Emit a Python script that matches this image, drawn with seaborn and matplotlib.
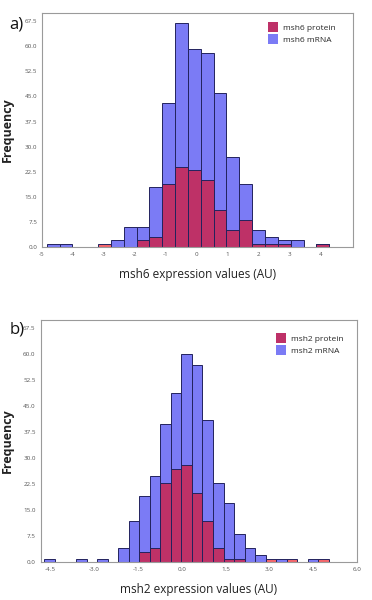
import numpy as np
import pandas as pd
import seaborn as sns
import matplotlib.pyplot as plt
from matplotlib.patches import Patch

# panel a: msh6, bin edges and counts
edges_a = [-4.85, -4.435, -4.02, -3.605, -3.19, -2.775, -2.36, -1.945, -1.53,
           -1.115, -0.70, -0.285, 0.13, 0.545, 0.96, 1.375, 1.79, 2.205, 2.62,
           3.035, 3.45, 3.865, 4.28]
mrna_a = [1, 1, 0, 0, 0, 2, 6, 6, 18, 43, 67, 59, 58, 46, 27, 19, 5, 3, 2, 2, 0, 1]
protein_a = [0, 0, 0, 0, 1, 0, 0, 2, 3, 19, 24, 23, 20, 11, 5, 8, 1, 1, 1, 0, 0, 1]
xticks_a = [-5, -4, -3, -2, -1, 0, 1, 2, 3, 4]

# panel b: msh2
edges_b = [-4.72, -4.36, -4.00, -3.64, -3.27, -2.91, -2.55, -2.19, -1.83, -1.47,
           -1.10, -0.74, -0.38, -0.02, 0.34, 0.70, 1.07, 1.43, 1.79, 2.15, 2.51,
           2.87, 3.24, 3.60, 3.96, 4.32, 4.68, 5.04]
mrna_b = [1, 0, 0, 1, 0, 1, 0, 4, 12, 19, 25, 40, 49, 60, 57, 41, 23, 17, 8, 4, 2,
          0, 1, 0, 0, 1, 0]
protein_b = [0, 0, 0, 0, 0, 0, 0, 0, 0, 3, 4, 23, 27, 28, 20, 12, 4, 1, 1, 0, 0,
             1, 0, 1, 0, 0, 1]
xticks_b = [-4.5, -3.0, -1.5, 0.0, 1.5, 3.0, 4.5, 6.0]

yticks = [0.0, 7.5, 15.0, 22.5, 30.0, 37.5, 45.0, 52.5, 60.0, 67.5]

BLUE = "#7b7bf5"
RED = "#eb0008"
LEG_RED = "#be3168"
EDGE = "#23235e"


def to_df(edges, counts):
    e = np.array(edges)
    return pd.DataFrame({"x": (e[:-1] + e[1:]) / 2, "n": counts})


sns.set_style("white")
plt.rcParams["font.family"] = ["Open Sans", "DejaVu Sans"]

fig = plt.figure(figsize=(3.72, 6), dpi=100)
ax_a = fig.add_axes([0.113, 0.588, 0.836, 0.391])
ax_b = fig.add_axes([0.109, 0.063, 0.850, 0.404])

panels = [
    (ax_a, edges_a, mrna_a, protein_a, "msh6", xticks_a, (-5.0, 5.05), "a)", 0.953,
     (0.727, 0.96), -0.09),
    (ax_b, edges_b, mrna_b, protein_b, "msh2", xticks_b, (-4.85, 6.0), "b)", 0.445,
     (0.745, 0.945), -0.085),
]

for ax, edges, mrna, prot, gene, xt, xl, tag, ty, lpos, ylx in panels:
    sns.histplot(data=to_df(edges, mrna), x="x", weights="n", bins=edges,
                 color=BLUE, alpha=1.0, edgecolor=EDGE, linewidth=0.7, ax=ax)
    sns.histplot(data=to_df(edges, prot), x="x", weights="n", bins=edges,
                 color=RED, alpha=0.6, edgecolor=EDGE, linewidth=0.7, ax=ax)
    ax.set_xlim(*xl)
    ax.set_ylim(0, 70)
    ax.set_yticks(yticks)
    ax.set_yticklabels([f"{v:.1f}" for v in yticks])
    ax.set_xticks(xt)
    if gene == "msh6":
        ax.set_xticklabels([str(v) for v in xt])
    else:
        ax.set_xticklabels([f"{v:.1f}" for v in xt])
    ax.tick_params(axis="both", labelsize=4.5, colors="#555555", length=2,
                   width=0.5, pad=1.5, direction="out")
    for s in ax.spines.values():
        s.set_color("#9a9a9a")
        s.set_linewidth(0.8)
    ax.set_xlabel(f"{gene} expression values (AU)", fontsize=8.5, labelpad=8,
                  color="#222222")
    ax.set_ylabel("Frequency", fontsize=9, fontweight="bold", color="#222222")
    ax.yaxis.set_label_coords(ylx, 0.5)
    handles = [Patch(facecolor=LEG_RED, edgecolor="none", label=f"{gene} protein"),
               Patch(facecolor=BLUE, edgecolor="none", label=f"{gene} mRNA")]
    ax.legend(handles=handles, loc="upper left", bbox_to_anchor=lpos,
              frameon=False, fontsize=6, handlelength=1.15, handleheight=1.5,
              borderpad=0, borderaxespad=0, labelspacing=0.2, handletextpad=0.6)
    fig.text(0.025, ty, tag, fontsize=12, color="#111111")

plt.savefig("out.png", dpi=100)
